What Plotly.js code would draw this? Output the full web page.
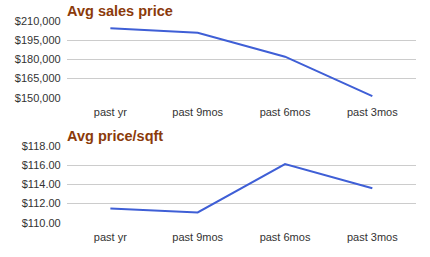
<!DOCTYPE html>
<html><head><meta charset="utf-8">
<script src="https://cdn.plot.ly/plotly-3.0.1.min.js"></script>
<style>html,body{margin:0;padding:0;background:#fff}#chart{width:430px;height:257px}</style>
</head><body><div id="chart"></div>
<script>
var categories = ["past yr", "past 9mos", "past 6mos", "past 3mos"];
var salesPrice = [204500, 201000, 182200, 151300];
var pricePerSqft = [111.5, 111.08, 116.14, 113.6];
var salesTicks = [150000, 165000, 180000, 195000, 210000];
var salesTickText = ["$150,000", "$165,000", "$180,000", "$195,000", "$210,000"];
var sqftTicks = [110, 112, 114, 116, 118];
var sqftTickText = ["$110.00", "$112.00", "$114.00", "$116.00", "$118.00"];
var titles = ["Avg sales price", "Avg price/sqft"];

var lineStyle = {color: "#3f5fd6", width: 2};
var data = [
  {x: categories, y: salesPrice, type: "scatter", mode: "lines", line: lineStyle, xaxis: "x", yaxis: "y", hoverinfo: "none"},
  {x: categories, y: pricePerSqft, type: "scatter", mode: "lines", line: lineStyle, xaxis: "x2", yaxis: "y2", hoverinfo: "none"}
];
var W = 430, H = 257;
var xd = [66.7 / W, 416 / W];
var tickFont = {family: "Liberation Sans, Arial, sans-serif", size: 11, color: "#333"};
function xa(anchor) {
  return {domain: xd, anchor: anchor, type: "category", range: [-0.5, 3.5], showgrid: false, zeroline: false, showline: false, ticks: "", tickfont: tickFont, fixedrange: true, ticklabelstandoff: 6};
}
function ya(anchor, dom, rng, ticks, txt) {
  return {domain: dom, anchor: anchor, range: rng, tickmode: "array", tickvals: ticks, ticktext: txt, showgrid: true, gridcolor: "#cccccc", gridwidth: 1, zeroline: false, showline: false, ticks: "", tickfont: tickFont, fixedrange: true, ticklabelstandoff: 5};
}
var layout = {
  width: W, height: H,
  margin: {l: 0, r: 0, t: 0, b: 0},
  paper_bgcolor: "#fff", plot_bgcolor: "#fff",
  showlegend: false,
  xaxis: xa("y"),
  yaxis: ya("x", [1 - 98 / H, 1 - 21 / H], [149820, 210180], salesTicks, salesTickText),
  xaxis2: xa("y2"),
  yaxis2: ya("x2", [1 - 223 / H, 1 - 146 / H], [109.976, 118.024], sqftTicks, sqftTickText),
  annotations: [
    {text: "<b>" + titles[0] + "</b>", xref: "paper", yref: "paper", x: 65 / W, y: 1 - 1 / H, xanchor: "left", yanchor: "top", showarrow: false, font: {family: "Liberation Sans, Arial, sans-serif", size: 14.5, color: "#8b3a0a"}},
    {text: "<b>" + titles[1] + "</b>", xref: "paper", yref: "paper", x: 65 / W, y: 1 - 126 / H, xanchor: "left", yanchor: "top", showarrow: false, font: {family: "Liberation Sans, Arial, sans-serif", size: 14.5, color: "#8b3a0a"}}
  ]
};
Plotly.newPlot("chart", data, layout, {displayModeBar: false, staticPlot: true});
</script></body></html>
